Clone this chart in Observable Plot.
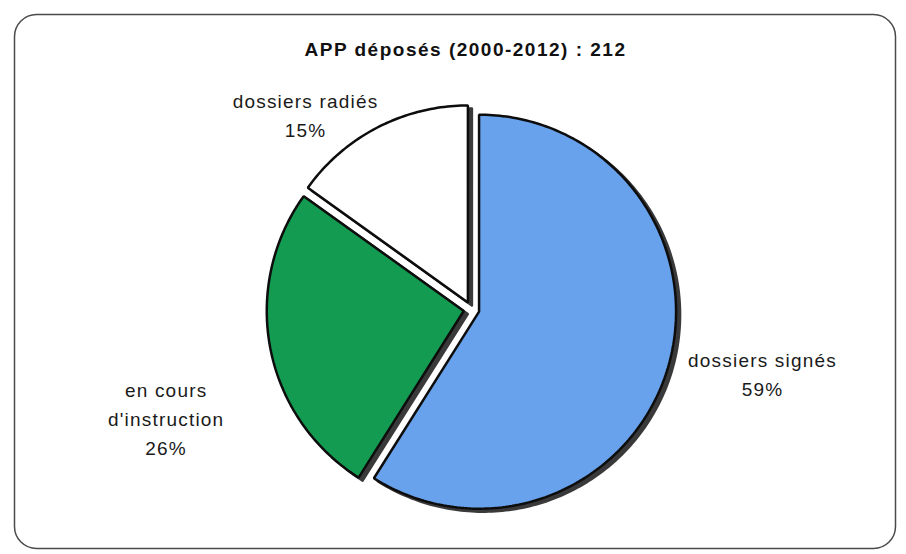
<!DOCTYPE html>
<html>
<head>
<meta charset="utf-8">
<script src="https://cdn.jsdelivr.net/npm/d3@7"></script>
<script src="https://cdn.jsdelivr.net/npm/@observablehq/plot@0.6"></script>
<style>
  html, body { margin: 0; padding: 0; background: #fff; }
  #chart svg { display: block; font-family: "Liberation Sans", Arial, sans-serif; }
  #chart svg text { letter-spacing: 1.2px; }
  #chart svg .title text { letter-spacing: 1.5px; }
</style>
</head>
<body>
<div id="chart"></div>
<script>
// Dossiers APP déposés entre 2000 et 2012, par état
const title = "APP déposés (2000-2012) : 212";
const categories = ["dossiers signés", "en cours\nd'instruction", "dossiers radiés"];
const counts = [125, 55, 32];
const colors = ["#68a2ec", "#139c51", "#ffffff"];

const W = 906, H = 554;
const cx = 471, cy = 309, R = 197;   // pie centre and radius (px)
const explode = 0.04;                 // slice offset, in radii

const total = d3.sum(counts);
const rows = categories.map((name, i) => ({
  name, count: counts[i], color: colors[i],
  pct: Math.round(counts[i] / total * 100)
}));

// Pie angles (clockwise from 12 o'clock, first slice starting at the top)
const arcs = d3.pie().sort(null).value(d => d.count)(rows);

// Outline of each exploded slice in unit-radius coordinates
const slices = arcs.map(a => {
  const mid = (a.startAngle + a.endAngle) / 2;
  const ox = explode * Math.sin(mid), oy = -explode * Math.cos(mid);
  const n = Math.max(2, Math.ceil((a.endAngle - a.startAngle) / (Math.PI / 180)));
  const pts = [{x: ox, y: oy}];
  for (let k = 0; k <= n; ++k) {
    const t = a.startAngle + (a.endAngle - a.startAngle) * k / n;
    pts.push({x: ox + Math.sin(t), y: oy - Math.cos(t)});
  }
  return {row: a.data, mid, pts};
});

const labelAt = (s, k) => ({
  x: k * Math.sin(s.mid), y: -k * Math.cos(s.mid),
  text: `${s.row.name}\n${s.row.pct}%`
});

// Label placement beside each slice
const labelOffsets = [
  {dx: 45, dy: -8},
  {dx: -54, dy: 58},
  {dx: -49, dy: 32}
];

const marks = [
  Plot.frame({insetLeft: 14, insetTop: 14, insetRight: 11, insetBottom: 6, rx: 22, stroke: "#4a4a4a", strokeWidth: 1.5}),
  Plot.text([title], {frameAnchor: "top", dx: 12, dy: 49, fontSize: 19, fontWeight: "bold", fill: "#111", lineAnchor: "middle", className: "title"}),
  // drop shadows
  ...slices.map(s => Plot.line(s.pts, {x: "x", y: "y", curve: "linear-closed", fill: "#3a3a3a", stroke: "#3a3a3a", strokeWidth: 2.5, dx: 4, dy: 3})),
  // slices
  ...slices.map(s => Plot.line(s.pts, {x: "x", y: "y", curve: "linear-closed", fill: s.row.color, stroke: "#0d0d0d", strokeWidth: 2.5, strokeLinejoin: "miter"})),
  // labels
  ...slices.map((s, i) => Plot.text([labelAt(s, 1.3)], {
    x: "x", y: "y", text: "text", fontSize: 19, fill: "#1a1a1a",
    lineHeight: 1.53, textAnchor: "middle", lineAnchor: "middle",
    dx: labelOffsets[i].dx, dy: labelOffsets[i].dy
  }))
];

const chart = Plot.plot({
  width: W, height: H,
  margin: 0,
  x: {type: "linear", domain: [-1, 1], range: [cx - R, cx + R], axis: null},
  y: {type: "linear", domain: [-1, 1], range: [cy - R, cy + R], axis: null},
  style: {background: "#fff", overflow: "visible"},
  marks
});
document.getElementById("chart").append(chart);
</script>
</body>
</html>
